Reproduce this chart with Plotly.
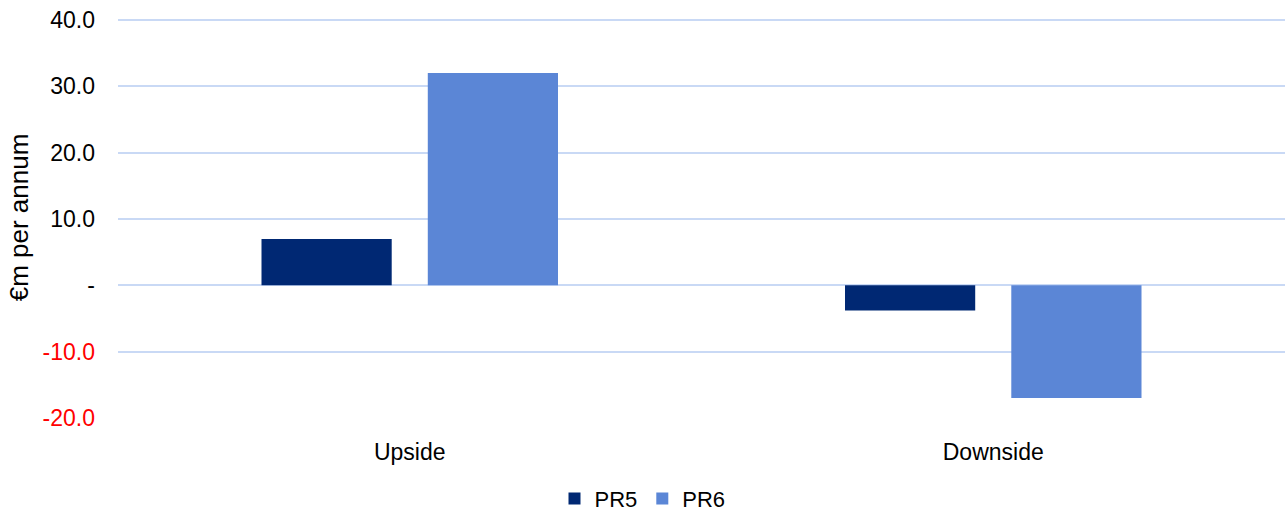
import plotly.graph_objects as go

categories = ["Upside", "Downside"]
pr5 = [7.0, -3.8]
pr6 = [32.0, -17.0]
tick_vals = [-20, -10, 0, 10, 20, 30, 40]
tick_text = ['<span style="color:#FF0000">-20.0</span>', '<span style="color:#FF0000">-10.0</span>',
             '-', '10.0', '20.0', '30.0', '40.0']

font = "Liberation Sans, Arial, sans-serif"
fs = 23

fig = go.Figure()
fig.add_trace(go.Bar(name="PR5", x=categories, y=pr5, marker=dict(color="#002873", line=dict(width=0))))
fig.add_trace(go.Bar(name="PR6", x=categories, y=pr6, marker=dict(color="#5B86D6", line=dict(width=0))))

fig.update_layout(
    width=1285, height=514,
    margin=dict(l=118, r=0, t=17, b=96, autoexpand=False),
    paper_bgcolor="white", plot_bgcolor="white",
    barmode="group", bargap=0.43, bargroupgap=0.217,
    font=dict(family=font, size=fs, color="#000000"),
    showlegend=True,
    legend=dict(orientation="h", xref="container", x=0.5, xanchor="center",
                yref="container", y=0.03, yanchor="middle",
                font=dict(size=22), itemwidth=30, tracegroupgap=0),
    xaxis=dict(showgrid=False, showline=False, ticks="", tickfont=dict(size=fs),
               ticklabelstandoff=18),
    yaxis=dict(range=[-20, 40.45], tickmode="array", tickvals=tick_vals, ticktext=tick_text,
               showgrid=True, gridcolor="#C9D9F5", gridwidth=1.5, zeroline=True,
               zerolinecolor="#C9D9F5", zerolinewidth=2, showline=False, ticks="",
               tickfont=dict(size=fs), ticklabelstandoff=22,
               title=dict(text="€m per annum", font=dict(size=26), standoff=6)),
)

fig.write_html("out.html")
